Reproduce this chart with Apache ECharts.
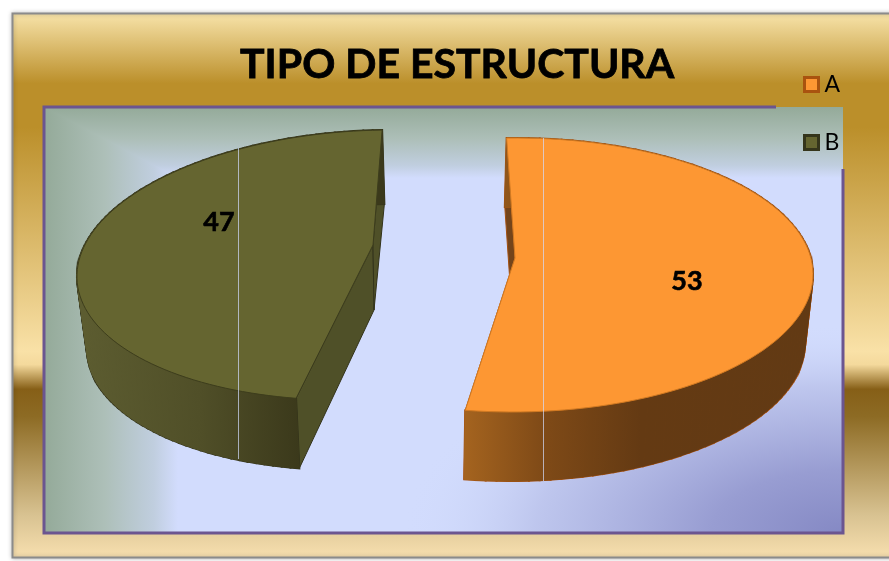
<!DOCTYPE html>
<html>
<head>
<meta charset="utf-8">
<style>
  html, body { margin: 0; padding: 0; background: #fff; }
  #main { width: 889px; height: 561px; }
</style>
<script src="https://cdn.jsdelivr.net/npm/echarts@6/dist/echarts.min.js"></script>
</head>
<body>
<div id="main"></div>
<script>
var categories = ['A', 'B'];
var values = [53, 47];
var titleText = 'TIPO DE ESTRUCTURA';

// 3D look: each exploded slice has its own top and bottom rim ellipse
var sliceLook = [
  {
    top: { cx: 514, cy: 275, rx: 299, ry: 137, skew: 1.5 },
    bottom: { cx: 512, cy: 344, rx: 293, ry: 137, skew: 1.5 },
    apexTop: [515, 258], apexBottom: [513, 327],
    color: '#fd9733', stroke: '#d27a22', sideStroke: '#a5500f', cut: '#74441a',
    legendBorder: '#a9530f',
    sideStops: [[463, '#a5641f'], [543, '#7f4a17'], [640, '#643a13'], [810, '#623a14']],
    label: [687, 281]
  },
  {
    top: { cx: 366, cy: 265, rx: 288, ry: 135, skew: 24.7 },
    bottom: { cx: 368, cy: 337, rx: 280, ry: 133, skew: 24.7 },
    apexTop: [373, 245], apexBottom: [374, 310],
    color: '#656530', stroke: '#3d3d1c', sideStroke: '#33331a', cut: '#4f5028',
    legendBorder: '#35351b',
    sideStops: [[85, '#5c5c30'], [200, '#504f28'], [300, '#3b391b']],
    label: [219, 222]
  }
];

var startAngle = 91.7; // degrees, going clockwise on screen
var total = values.reduce(function (a, b) { return a + b; }, 0);
var rimSteps = 90;

function rimPoint(e, deg) {
  var t = deg * Math.PI / 180;
  return [e.cx + e.rx * Math.cos(t) + e.skew * Math.sin(t), e.cy - e.ry * Math.sin(t)];
}

function rimPath(e, from, to) {
  var pts = [];
  for (var i = 0; i <= rimSteps; i++) {
    pts.push(rimPoint(e, from + (to - from) * i / rimSteps));
  }
  return pts;
}

function sideGradient(stops) {
  var x0 = stops[0][0];
  var x1 = stops[stops.length - 1][0];
  return {
    type: 'linear', global: true, x: x0, y: 0, x2: x1, y2: 0,
    colorStops: stops.map(function (s) {
      return { offset: (s[0] - x0) / (x1 - x0), color: s[1] };
    })
  };
}

function renderSlice(index) {
  return function (params, api) {
    var look = sliceLook[index];
    var before = 0;
    for (var i = 0; i < index; i++) before += values[i];
    var from = startAngle - before / total * 360;
    var to = from - api.value(0) / total * 360;

    var topRim = rimPath(look.top, from, to);
    var bottomRim = rimPath(look.bottom, from, to);
    var sideFill = sideGradient(look.sideStops);

    var poly = function (points, style) {
      return { type: 'polygon', shape: { points: points }, style: style };
    };

    var children = [
      poly([topRim[0], look.apexTop, look.apexBottom, bottomRim[0]],
        { fill: look.cut, stroke: look.sideStroke, lineWidth: 1 }),
      poly([topRim[rimSteps], look.apexTop, look.apexBottom, bottomRim[rimSteps]],
        { fill: look.cut, stroke: look.sideStroke, lineWidth: 1 })
    ];

    // the round side is built from small strips so its outline follows the rims
    var strips = [];
    for (var s = 0; s < rimSteps; s++) {
      strips.push([topRim[s], topRim[s + 1], bottomRim[s + 1], bottomRim[s]]);
    }
    strips.forEach(function (q) {
      children.push(poly(q, { fill: look.sideStroke, stroke: look.sideStroke, lineWidth: 2 }));
    });
    strips.forEach(function (q) {
      children.push(poly(q, { fill: sideFill, stroke: sideFill, lineWidth: 1 }));
    });

    children.push(poly([look.apexTop].concat(topRim),
      { fill: look.color, stroke: look.stroke, lineWidth: 1 }));
    children.push({
      type: 'text',
      x: look.label[0], y: look.label[1],
      style: {
        text: String(api.value(0)),
        font: 'bold 27px Lato',
        fill: '#000',
        stroke: '#000',
        lineWidth: 0.6,
        align: 'center',
        verticalAlign: 'middle'
      }
    });

    return { type: 'group', children: children };
  };
}

var frameGradient = {
  type: 'linear', x: 0, y: 0, x2: 0, y2: 1,
  colorStops: [
    { offset: 0, color: '#f8e4ab' },
    { offset: 0.13, color: '#bb8f2a' },
    { offset: 0.21, color: '#bb8f2a' },
    { offset: 0.62, color: '#f9e1a7' },
    { offset: 0.645, color: '#f4d99c' },
    { offset: 0.69, color: '#865f17' },
    { offset: 0.74, color: '#8d6b24' },
    { offset: 0.92, color: '#d8c291' },
    { offset: 1, color: '#f8e0b0' }
  ]
};

var bgBase = '#d2dcfd';
var bandStops = [
  { offset: 0, color: '#94aa99' },
  { offset: 0.45, color: '#adbfb8' },
  { offset: 0.82, color: '#c0cedf' },
  { offset: 1, color: bgBase }
];

var chart = echarts.init(document.getElementById('main'), null, { renderer: 'canvas' });
chart.setOption({
  animation: false,
  backgroundColor: '#fff',
  title: {
    text: titleText,
    left: 240,
    top: 44,
    padding: 0,
    textStyle: {
      fontFamily: 'Lato', fontWeight: 'bold', fontSize: 41, color: '#000',
      textBorderColor: '#000', textBorderWidth: 0.8
    }
  },
  legend: {
    orient: 'vertical',
    left: 803,
    top: 73,
    padding: 0,
    itemWidth: 14,
    itemHeight: 14,
    itemGap: 35,
    icon: 'rect',
    selectedMode: false,
    textStyle: { fontFamily: 'Lato', fontSize: 23, color: '#000', padding: [0, 0, 0, 1] },
    data: categories.map(function (name, i) {
      return {
        name: name,
        itemStyle: { color: sliceLook[i].color, borderColor: sliceLook[i].legendBorder, borderWidth: 3 }
      };
    })
  },
  graphic: [
    { // outer frame
      type: 'rect', z: 0,
      shape: { x: 12.5, y: 13.5, width: 900, height: 544 },
      style: { fill: frameGradient, stroke: '#8b8b8b', lineWidth: 2, shadowBlur: 4, shadowColor: 'rgba(0,0,0,0.25)' }
    },
    { // plot area base
      type: 'rect', z: 1,
      shape: { x: 44, y: 107, width: 799, height: 426 },
      style: { fill: bgBase }
    },
    { // left band, the top band lies over its upper corner
      type: 'rect', z: 1,
      shape: { x: 44, y: 107, width: 134, height: 426 },
      style: { fill: { type: 'linear', x: 0, y: 0, x2: 1, y2: 0, colorStops: bandStops } }
    },
    { // top band
      type: 'polygon', z: 1,
      shape: { points: [[44, 107], [843, 107], [843, 178], [178, 178]] },
      style: { fill: { type: 'linear', x: 0, y: 0, x2: 0, y2: 1, colorStops: bandStops } }
    },
    { // lower right glow
      type: 'rect', z: 1,
      x: 403, y: 323, scaleX: 2.095, scaleY: 1,
      shape: { x: 0, y: 0, width: 210, height: 210 },
      style: {
        fill: { type: 'radial', x: 1, y: 1, r: 1, colorStops: [
          { offset: 0, color: '#8589c4' },
          { offset: 0.3, color: '#989dd2' },
          { offset: 0.7, color: 'rgba(188,196,236,0.9)' },
          { offset: 1, color: 'rgba(210,220,253,0)' }
        ] }
      }
    },
    { // plot border, open around the legend
      type: 'polyline', z: 1,
      shape: { points: [[776, 107], [44, 107], [44, 533], [843, 533], [843, 169]] },
      style: { fill: 'none', stroke: '#6b5590', lineWidth: 3 }
    },
    {
      type: 'line', z: 10,
      shape: { x1: 238.5, y1: 148, x2: 238.5, y2: 459 },
      style: { stroke: 'rgba(210,220,253,0.7)', lineWidth: 1 }
    },
    {
      type: 'line', z: 10,
      shape: { x1: 543.5, y1: 138, x2: 543.5, y2: 481 },
      style: { stroke: 'rgba(210,220,253,0.7)', lineWidth: 1 }
    }
  ],
  series: categories.map(function (name, i) {
    return {
      type: 'custom',
      name: name,
      coordinateSystem: 'none',
      z: 3,
      silent: true,
      itemStyle: { color: sliceLook[i].color },
      renderItem: renderSlice(i),
      data: [[values[i]]]
    };
  })
});
</script>
</body>
</html>
